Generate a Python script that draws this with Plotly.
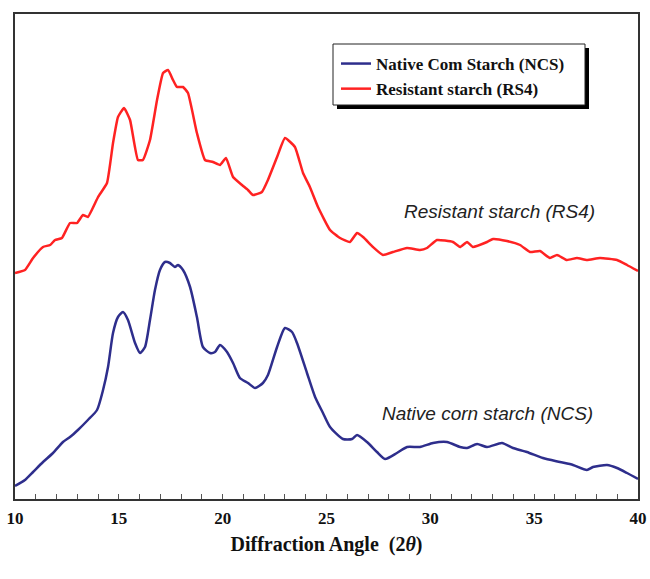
import plotly.graph_objects as go

# Red curve: Resistant starch (RS4)
rs4_x = [10.0, 10.48, 10.87, 11.35, 11.69, 11.93, 12.26, 12.65, 12.99, 13.27, 13.51, 14.0, 14.43, 14.72,
         14.96, 15.25, 15.54, 15.92, 16.16, 16.5, 16.84, 17.13, 17.37, 17.61, 17.8, 18.09, 18.33, 18.76,
         19.15, 19.53, 19.87, 20.16, 20.5, 20.93, 21.22, 21.46, 21.89, 22.18, 22.62, 23.0, 23.48, 23.87,
         24.2, 24.59, 25.17, 25.65, 26.13, 26.47, 26.76, 27.24, 27.72, 28.2, 28.88, 29.5, 29.84, 30.32,
         31.09, 31.43, 31.77, 32.05, 32.73, 33.02, 33.69, 34.32, 34.8, 35.28, 35.76, 36.1, 36.58, 37.06,
         37.54, 38.17, 38.99, 39.47, 40.0]
rs4_y = [226, 229, 241, 252, 254, 259, 261, 276, 276, 284, 282, 302, 316, 356,
         382, 391, 379, 339, 339, 359, 399, 426, 429, 419, 412, 412, 406, 366,
         339, 337, 334, 341, 322, 314, 309, 304, 307, 319, 342, 361, 352, 326,
         312, 292, 269, 261, 257, 266, 262, 252, 244, 247, 251, 249, 251, 259,
         257, 252, 257, 252, 257, 260, 258, 254, 247, 248, 241, 244, 239, 241,
         239, 241, 239, 234, 228]

# Blue curve: Native corn starch (NCS)
ncs_x = [10.0, 10.48, 10.87, 11.35, 11.83, 12.31, 12.65, 13.03, 13.51, 13.95, 14.24, 14.48, 14.72, 14.96,
         15.2, 15.44, 15.78, 16.02, 16.26, 16.5, 16.74, 16.98, 17.22, 17.46, 17.7, 17.85, 18.09, 18.43,
         18.76, 19.05, 19.39, 19.63, 19.87, 20.21, 20.5, 20.83, 21.22, 21.56, 21.94, 22.18, 22.62, 23.0,
         23.34, 23.58, 24.06, 24.45, 24.83, 25.17, 25.79, 26.23, 26.47, 26.95, 27.43, 27.82, 28.39, 28.88,
         29.5, 30.13, 30.8, 31.43, 31.77, 32.25, 32.73, 33.45, 33.98, 34.65, 35.42, 36.24, 36.87, 37.54,
         37.83, 38.51, 38.99, 39.47, 40.0]
ncs_y = [13, 19, 27, 37, 46, 57, 62, 69, 79, 89, 109, 132, 166, 182,
         187, 179, 156, 146, 152, 179, 209, 229, 237, 236, 232, 234, 229, 212,
         182, 152, 146, 147, 154, 147, 136, 121, 116, 111, 116, 124, 152, 171,
         167, 156, 126, 102, 86, 72, 60, 60, 64, 57, 47, 40, 46, 52,
         52, 56, 57, 52, 51, 55, 52, 56, 51, 47, 41, 37, 34, 29,
         32, 34, 31, 26, 20]

x_ticks = [10, 15, 20, 25, 30, 35, 40]

BLUE = "#2e2e8c"
RED = "#ff2222"

L, R, T, B = 15, 638, 14, 499
PW, PH = R - L, B - T


def px(x):
    return (x - L) / PW


def py(y):
    return (B - y) / PH


fig = go.Figure()
fig.add_trace(go.Scatter(x=ncs_x, y=ncs_y, mode="lines", name="<b>Native Com Starch (NCS)</b>",
                         line=dict(color=BLUE, width=2.5, shape="spline", smoothing=0.6)))
fig.add_trace(go.Scatter(x=rs4_x, y=rs4_y, mode="lines", name="<b>Resistant starch (RS4)</b>",
                         line=dict(color=RED, width=2.5, shape="spline", smoothing=0.4)))

# legend box with shadow
fig.add_shape(type="rect", xref="paper", yref="paper",
              x0=px(337), x1=px(589), y0=py(109), y1=py(48),
              fillcolor="#000000", line=dict(width=0), layer="above")
fig.add_shape(type="rect", xref="paper", yref="paper",
              x0=px(333), x1=px(585), y0=py(105), y1=py(44),
              fillcolor="#ffffff", line=dict(width=1, color="#222222"), layer="above")

fig.add_annotation(x=33.35, y=288, text="<i>Resistant starch (RS4)</i>", showarrow=False,
                   font=dict(family="Liberation Sans", size=19, color="#222222"))
fig.add_annotation(x=32.73, y=86, text="<i>Native corn starch (NCS)</i>", showarrow=False,
                   font=dict(family="Liberation Sans", size=19, color="#222222"))

fig.update_layout(
    width=650, height=579,
    margin=dict(l=L, r=650 - R, t=T, b=579 - B),
    plot_bgcolor="white", paper_bgcolor="white",
    showlegend=True,
    legend=dict(x=px(336), y=py(46), xanchor="left", yanchor="top",
                bgcolor="rgba(0,0,0,0)", borderwidth=0,
                font=dict(family="Liberation Serif", size=17, color="#111111"),
                itemwidth=30, tracegroupgap=0),
    xaxis=dict(range=[10, 40], tickvals=x_ticks, ticktext=[f"<b>{t}</b>" for t in x_ticks],
               showline=True, linecolor="#333333", linewidth=2, mirror=True,
               ticks="inside", ticklen=5, tickcolor="#555555",
               minor=dict(dtick=1, ticks="inside", ticklen=5, tickcolor="#555555"),
               showgrid=False, zeroline=False, automargin=False,
               tickfont=dict(family="Liberation Serif", size=17, color="#111111"),
               ticklabelstandoff=3,
               title=dict(text="<b>Diffraction Angle  (2<i>θ</i>)</b>",
                          font=dict(family="Liberation Serif", size=20, color="#111111"),
                          standoff=10)),
    yaxis=dict(range=[0, 485], showticklabels=False, showline=True, linecolor="#333333",
               linewidth=2, mirror=True, ticks="", showgrid=False, zeroline=False,
               automargin=False),
)

fig.write_html("out.html")
